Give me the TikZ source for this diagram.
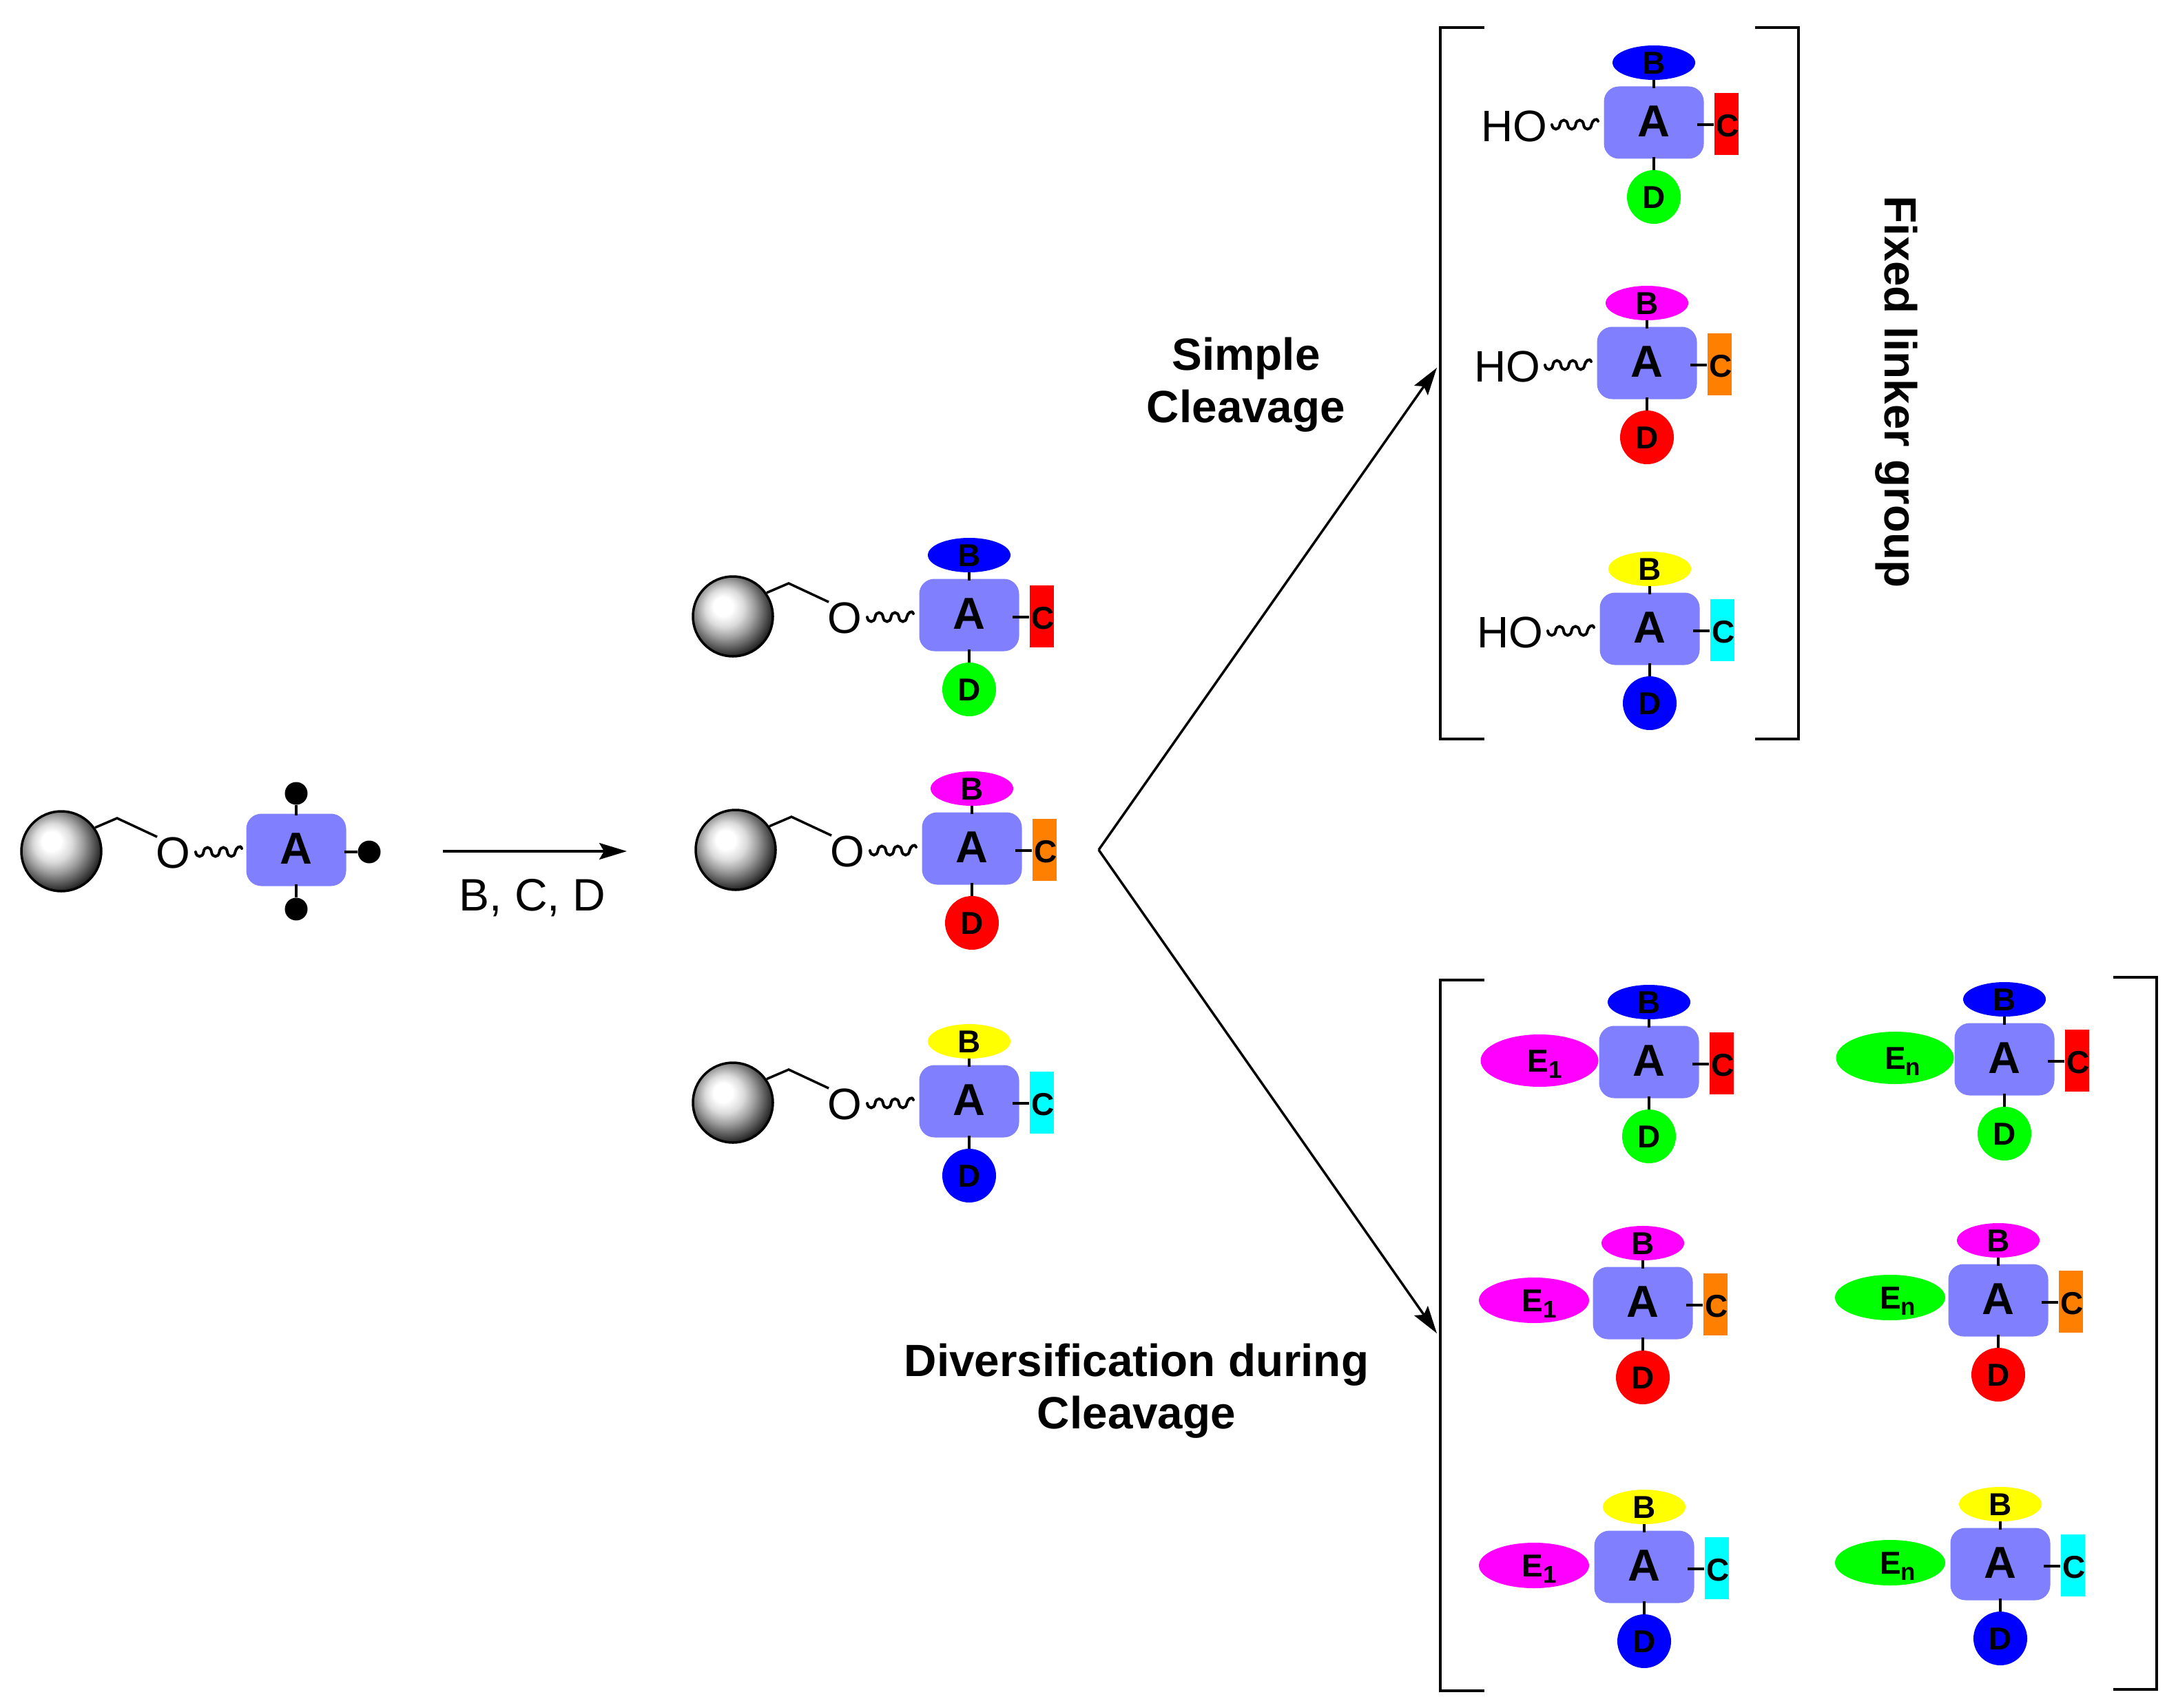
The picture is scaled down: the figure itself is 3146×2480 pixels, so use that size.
\documentclass[tikz,border=0pt]{standalone}
\usepackage{fontspec}
\setmainfont{Liberation Sans}
\usetikzlibrary{arrows.meta,shapes.geometric}
\pgfdeclareradialshading{resinball}{\pgfpoint{-7bp}{7bp}}{color(0bp)=(white);color(6bp)=(white);color(12bp)=(black!14);color(18bp)=(black!38);color(24bp)=(black!66);color(29bp)=(black!90);color(33bp)=(black);color(50bp)=(black)}
\definecolor{coreblue}{HTML}{8080FF}
\definecolor{cyanc}{HTML}{00FFFF}
\definecolor{orangec}{HTML}{FF8000}
\definecolor{limec}{HTML}{00FF00}
\definecolor{magentac}{HTML}{FF00FF}
\definecolor{bluec}{HTML}{0000FF}
\definecolor{redc}{HTML}{FF0000}
\definecolor{yellowc}{HTML}{FFFF00}
\newcommand{\fs}[1]{\fontsize{#1}{#1}\selectfont}
\tikzset{
  core/.style={rounded corners=22pt,fill=coreblue,minimum width=145pt,minimum height=105pt,inner sep=0pt,
    font=\fs{65}\bfseries,text height=47pt,text depth=6pt},
  bsub/.style={ellipse,fill=#1,minimum width=120pt,minimum height=50pt,inner sep=0pt,
    font=\fs{46}\bfseries,text height=33pt,text depth=0pt},
  csub/.style={fill=#1,minimum width=35pt,minimum height=90pt,inner sep=0pt,
    font=\fs{46}\bfseries,text height=37pt,text depth=0pt,text width=30pt,align=center},
  dsub/.style={circle,fill=#1,minimum size=78pt,inner sep=0pt,
    font=\fs{46}\bfseries,text height=33pt,text depth=0pt},
  dot/.style={circle,fill=black,minimum size=33pt,inner sep=0pt},
  bond/.style={line width=3.5pt},
  wavy/.style={line width=4pt,line cap=round},
  plain/.style={font=\fs{64},inner sep=0pt},
  heading/.style={font=\fs{65.6}\bfseries,inner sep=0pt},
  resin/.style={circle,shading=resinball,draw=black,line width=3.5pt,minimum size=116pt,inner sep=0pt},
  brack/.style={line width=3.5pt,line cap=butt},
  emb/.style={ellipse,fill=#1,inner sep=0pt,font=\fs{46}\bfseries,text height=33pt,text depth=0pt}
}
\newcommand{\wave}[1]{%
  \draw[wavy] (#1)
    .. controls +(1,8.7) and +(-1,8.7) .. ++(11.5,0)
    .. controls +(1,-8.7) and +(-1,-8.7) .. ++(11.5,0)
    .. controls +(1,8.7) and +(-1,8.7) .. ++(11.5,0)
    .. controls +(1,-8.7) and +(-1,-8.7) .. ++(11.5,0)
    .. controls +(1,8.7) and +(-1,8.7) .. ++(11.5,0)
    .. controls +(1,-6) and +(-2,-6) .. ++(9.5,-5);}
\newcommand{\subs}[4]{%
  \node[core] (#1a) at (0,0) {A};
  \node[bsub=#2] (#1b) at (0,-87) {B};
  \node[csub=#3] (#1c) at (105,2) {C};
  \node[dsub=#4] (#1d) at (0,108) {D};
  \draw[bond] (#1b.south) -- ([yshift=-3pt]#1a.north);
  \draw[bond] (#1d.north) -- ([yshift=3pt]#1a.south);
  \draw[bond] ([yshift=-1pt]#1c.west) -- ++(-24,0);
}
\newcommand{\resinpart}[1]{%
  \node[resin] (#1r) at (-343,2) {};
  \coordinate (#1k) at (-262,-46);
  \node[plain] (#1o) at (-181,4) {O};
  \coordinate (#1w) at (-148,3);
  \draw[bond] (#1r.35) -- (#1k) -- (#1o.135);
  \wave{#1w}
}
\newcommand{\resinunit}[6]{\begin{scope}[shift={(#2,#3)}]\subs{#1}{#4}{#5}{#6}\resinpart{#1}\end{scope}}
\newcommand{\hounit}[6]{\begin{scope}[shift={(#2,#3)}]\subs{#1}{#4}{#5}{#6}
  \node[plain] (#1h) at (-203,5) {HO};
  \coordinate (#1w) at (-148,3);
  \wave{#1w}\end{scope}}
\newcommand{\emblabel}[1]{\kern16pt E\fs{35}\raisebox{-9pt}{#1}}
\newcommand{\enlabel}{\kern22pt E\fs{35}\raisebox{-9pt}{n}}
\begin{document}
\begin{tikzpicture}[x=1pt,y=-1pt]
\useasboundingbox (0,0) rectangle (3146,2480);
\fill[white] (0,0) rectangle (3146,2480);
% starting material
\begin{scope}[shift={(430,1234)}]
  \node[core] (sa) at (0,0) {A};
  \node[dot] (st) at (0,-82) {};
  \node[dot] (su) at (0,86) {};
  \node[dot] (sv) at (106,3) {};
  \draw[bond] (st) -- ([yshift=-3pt]sa.north);
  \draw[bond] (su) -- ([yshift=3pt]sa.south);
  \draw[bond] (sv) -- ([xshift=-3pt,yshift=-3pt]sa.east);
  \begin{scope}[xshift=2pt]\resinpart{s}\end{scope}
\end{scope}
\coordinate (ra0) at (643,1236);
\coordinate (ra1) at (910,1236);
\draw[bond,-{Stealth[length=40pt,width=24pt,inset=7pt]}] (ra0) -- (ra1);
\node[plain,font=\fs{66}] (reag) at (773,1304) {B, C, D};
% resin products
\resinunit{m}{1407}{893}{bluec}{redc}{limec}
\resinunit{n}{1411}{1232}{magentac}{orangec}{redc}
\resinunit{p}{1407}{1599}{yellowc}{cyanc}{bluec}
% arrows
\coordinate (apex) at (1595,1234);
\coordinate (upper) at (2086,534);
\coordinate (lower) at (2086,1936);
\draw[bond,-{Stealth[length=40pt,width=24pt,inset=7pt]}] (apex) -- (upper);
\draw[bond,-{Stealth[length=40pt,width=24pt,inset=7pt]}] (apex) -- (lower);
\node[heading] (h1a) at (1809,521) {Simple};
\node[heading] (h1b) at (1809,597) {Cleavage};
\node[heading] (h2a) at (1650,1982) {Diversification during};
\node[heading] (h2b) at (1650,2058) {Cleavage};
\node[heading,rotate=-90] (h3) at (2753,569) {Fixed linker group};
% brackets
\draw[brack] (2155,40) -| (2091,1073) -- (2155,1073);
\draw[brack] (2548,40) -| (2611,1073) -- (2548,1073);
\draw[brack] (2155,1423) -| (2091,2455) -- (2155,2455);
\draw[brack] (3068,1419) -| (3131,2453) -- (3068,2453);
% cleaved products
\hounit{q}{2401}{178}{bluec}{redc}{limec}
\hounit{r}{2391}{527}{magentac}{orangec}{redc}
\hounit{u}{2395}{913}{yellowc}{cyanc}{bluec}
% diversified products
\begin{scope}[shift={(2394,1542)}]\subs{ea}{bluec}{redc}{limec}
\node[emb=magentac,minimum width=171pt,minimum height=76pt] (eae) at (-159,-2) {\emblabel{1}};\end{scope}
\begin{scope}[shift={(2910,1538)}]\subs{eb}{bluec}{redc}{limec}
\node[emb=limec,minimum width=171pt,minimum height=76pt] (ebe) at (-159,-2) {\enlabel};\end{scope}
\begin{scope}[shift={(2385,1892)}]\subs{ec}{magentac}{orangec}{redc}
\node[emb=magentac,minimum width=160pt,minimum height=66pt] (ece) at (-158,-4) {\emblabel{1}};\end{scope}
\begin{scope}[shift={(2901,1888)}]\subs{ed}{magentac}{orangec}{redc}
\node[emb=limec,minimum width=160pt,minimum height=66pt] (ede) at (-157,-4) {\enlabel};\end{scope}
\begin{scope}[shift={(2387,2275)}]\subs{ee}{yellowc}{cyanc}{bluec}
\node[emb=magentac,minimum width=160pt,minimum height=66pt] (eee) at (-160,-2) {\emblabel{1}};\end{scope}
\begin{scope}[shift={(2904,2271)}]\subs{ef}{yellowc}{cyanc}{bluec}
\node[emb=limec,minimum width=160pt,minimum height=66pt] (efe) at (-160,-2) {\enlabel};\end{scope}
\end{tikzpicture}
\end{document}
